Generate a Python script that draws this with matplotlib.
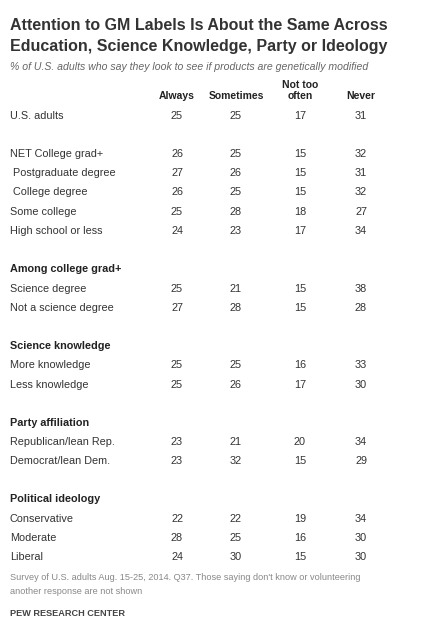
import matplotlib
matplotlib.use("Agg")
import matplotlib.pyplot as plt

plt.rcParams['font.family'] = ['Liberation Sans', 'DejaVu Sans']

columns = ['Always', 'Sometimes', 'Not too\noften', 'Never']
# (label, values, pixel y); values None means a group heading
rows = [
    ('U.S. adults', [25, 25, 17, 31], 116),
    ('NET College grad+', [26, 25, 15, 32], 154),
    (' Postgraduate degree', [27, 26, 15, 31], 173),
    (' College degree', [26, 25, 15, 32], 192),
    ('Some college', [25, 28, 18, 27], 212),
    ('High school or less', [24, 23, 17, 34], 231),
    ('Among college grad+', None, 269),
    ('Science degree', [25, 21, 15, 38], 289),
    ('Not a science degree', [27, 28, 15, 28], 308),
    ('Science knowledge', None, 346),
    ('More knowledge', [25, 25, 16, 33], 365),
    ('Less knowledge', [25, 26, 17, 30], 385),
    ('Party affiliation', None, 423),
    ('Republican/lean Rep.', [23, 21, 20, 34], 442),
    ('Democrat/lean Dem.', [23, 32, 15, 29], 461),
    ('Political ideology', None, 499),
    ('Conservative', [22, 22, 19, 34], 519),
    ('Moderate', [28, 25, 16, 30], 538),
    ('Liberal', [24, 30, 15, 30], 557),
]
col_x = [177, 236, 300, 361]

W, H = 425, 640
fig = plt.figure(figsize=(W / 100, H / 100), dpi=100)
fig.patch.set_facecolor('white')

def T(x, y, s, **kw):
    fig.text(x / W, 1 - y / H, s, **kw)

T(10, 25, 'Attention to GM Labels Is About the Same Across', fontsize=11.5,
  fontweight='bold', color='#333333', va='center')
T(10, 46, 'Education, Science Knowledge, Party or Ideology', fontsize=11.5,
  fontweight='bold', color='#333333', va='center')
T(10, 67, '% of U.S. adults who say they look to see if products are genetically modified',
  fontsize=7.6, style='italic', color='#666666', va='center')

for x, c in zip(col_x, columns):
    T(x, 101, c, fontsize=7.5, fontweight='bold', ha='center', va='bottom',
      color='#222222', linespacing=1.1)

for label, vals, y in rows:
    if vals is None:
        T(10, y, label, fontsize=7.8, fontweight='bold', va='center', color='#222222')
    else:
        T(10, y, label, fontsize=7.8, va='center', color='#333333')
        for x, v in zip(col_x, vals):
            T(x, y, str(v), fontsize=7.8, ha='center', va='center', color='#333333')

T(10, 578, "Survey of U.S. adults Aug. 15-25, 2014. Q37. Those saying don't know or volunteering",
  fontsize=6.6, color='#888888', va='center')
T(10, 592, 'another response are not shown', fontsize=6.6, color='#888888', va='center')
T(10, 613, 'PEW RESEARCH CENTER', fontsize=6.6, fontweight='bold', color='#444444', va='center')

fig.savefig('out.png', dpi=100)
